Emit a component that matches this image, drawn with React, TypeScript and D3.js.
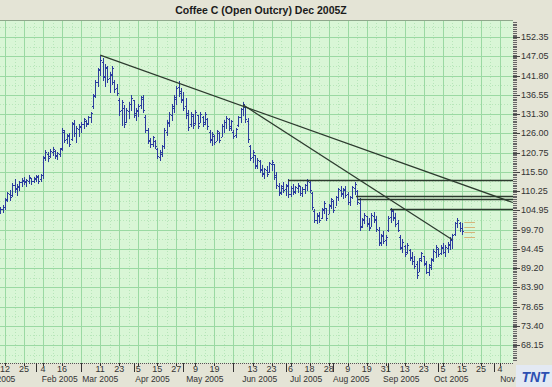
import * as d3 from 'd3'

const W = 552
const H = 387
const PLOT = { left: 0, right: 513, top: 20, bottom: 363 }

// bar index 0 sits on trading slot -2 (slot 0 = Jan 12, every 8 slots a grid line)
const FIRST_SLOT = -2

const highs = [
  105.9, 106.4, 108.4, 110.1, 110.6, 112.5, 113.4, 112.3, 113.1, 113.9, 114.2, 113.6, 114.5, 113.9, 114.2, 114.7, 114.5, 115.0,
  119.9, 121.5, 121.0, 121.8, 122.4, 121.5, 121.0, 122.1, 127.5, 127.0, 125.9, 126.2, 129.2, 129.7, 128.1, 128.6, 129.2, 130.3,
  129.7, 130.8, 131.9, 136.8, 140.6, 143.9, 147.2, 146.6, 145.0, 144.4, 142.8, 144.4, 140.6, 139.5, 135.7, 135.2, 133.8, 133.0,
  134.6, 136.5, 135.2, 133.0, 134.1, 136.3, 136.5, 131.1, 127.5, 124.8, 125.4, 124.3, 122.1, 121.5, 122.9, 127.5, 129.7, 131.9,
  134.1, 136.5, 139.0, 140.3, 138.4, 137.4, 135.7, 132.4, 131.9, 131.4, 132.4, 131.1, 131.9, 130.8, 131.9, 130.3, 127.0, 126.4,
  125.6, 127.0, 126.4, 128.6, 129.7, 130.8, 130.3, 129.7, 127.0, 127.5, 130.8, 133.0, 134.6, 133.5, 130.3, 122.9, 121.5, 120.2,
  119.4, 118.8, 117.4, 116.6, 117.1, 118.2, 118.8, 117.7, 115.5, 112.5, 112.0, 112.8, 112.3, 113.4, 111.7, 112.3, 111.7, 112.5,
  111.7, 111.4, 112.3, 113.4, 113.1, 110.1, 105.2, 104.1, 104.6, 105.7, 107.4, 105.7, 106.8, 108.4, 107.9, 109.0, 111.2, 111.7,
  111.2, 111.7, 110.1, 109.0, 111.7, 112.8, 110.6, 108.4, 103.0, 104.1, 103.5, 103.0, 104.1, 104.6, 103.5, 100.3, 98.6, 99.2,
  98.1, 103.5, 105.7, 105.2, 104.1, 102.4, 98.1, 97.0, 95.4, 95.9, 94.3, 93.7, 92.6, 91.0, 92.0, 93.7, 92.6, 91.0, 90.4, 92.0,
  94.3, 95.4, 94.8, 95.4, 95.9, 95.4, 96.2, 97.6, 98.6, 101.9, 103.0, 101.9, 101.4,
]
const lows = [
  104.1, 104.4, 105.2, 107.4, 107.9, 109.0, 110.1, 109.2, 110.6, 111.7, 112.3, 111.7, 112.5, 112.3, 112.8, 113.1, 112.5, 113.1,
  113.9, 118.8, 118.5, 119.6, 120.2, 119.3, 119.1, 119.9, 121.5, 123.7, 123.4, 122.6, 124.3, 125.4, 123.7, 125.4, 126.4, 127.5,
  128.1, 128.6, 129.2, 133.0, 136.0, 139.0, 142.0, 140.6, 139.0, 140.1, 137.4, 139.5, 137.4, 136.5, 131.1, 128.4, 127.8, 129.2,
  130.3, 132.4, 130.5, 129.7, 130.8, 133.0, 131.9, 126.4, 123.4, 122.4, 122.6, 122.1, 119.3, 118.8, 119.9, 122.1, 125.6, 128.1,
  129.7, 131.9, 134.1, 136.3, 134.6, 132.4, 130.3, 127.0, 128.1, 127.5, 128.6, 127.5, 129.2, 128.1, 128.6, 127.3, 123.7, 122.9,
  123.2, 124.3, 123.7, 125.4, 126.4, 127.5, 127.0, 127.0, 124.8, 125.1, 128.1, 129.2, 131.1, 129.2, 123.7, 118.8, 118.3, 116.6,
  116.6, 115.5, 114.4, 113.9, 114.4, 115.5, 116.1, 113.4, 111.2, 109.2, 109.5, 110.1, 109.2, 108.7, 109.0, 109.5, 109.8, 110.1,
  109.2, 109.0, 109.8, 110.6, 110.1, 105.2, 101.9, 101.4, 101.9, 103.0, 104.1, 102.4, 104.1, 105.7, 104.6, 106.3, 107.9, 109.0,
  108.4, 108.7, 106.8, 106.3, 108.4, 109.5, 106.8, 99.7, 100.3, 101.4, 100.8, 99.7, 100.8, 101.9, 99.2, 95.4, 95.4, 95.9,
  95.6, 99.2, 101.9, 102.4, 100.8, 99.2, 94.3, 93.7, 92.6, 93.2, 91.5, 90.4, 89.3, 86.6, 88.3, 91.0, 89.9, 87.7, 87.4, 88.8,
  91.0, 92.1, 92.6, 92.9, 93.2, 92.6, 93.7, 94.3, 94.8, 98.1, 100.3, 99.2, 98.4,
]
const opens = [
  104.5, 105.2, 105.8, 108.0, 109.4, 109.2, 111.8, 111.0, 111.4, 112.6, 113.0, 112.9, 113.1, 113.7, 113.0, 113.6, 114.1, 113.4,
  114.5, 119.6, 120.5, 119.9, 121.0, 121.2, 119.8, 120.5, 122.0, 126.5, 124.4, 125.2, 124.5, 128.6, 126.2, 127.2, 127.8, 128.5,
  129.5, 128.8, 130.5, 133.5, 136.5, 140.0, 143.5, 145.5, 141.8, 143.8, 141.2, 142.3, 140.0, 138.3, 135.0, 132.5, 133.0, 129.0,
  132.2, 134.0, 135.0, 131.5, 132.0, 133.8, 135.5, 130.5, 126.8, 124.2, 123.2, 124.0, 121.8, 119.5, 120.5, 122.6, 126.5, 128.8,
  131.0, 133.0, 135.5, 138.8, 137.5, 135.5, 133.5, 131.5, 128.5, 130.8, 128.9, 131.0, 128.8, 130.5, 129.0, 130.0, 126.5, 124.5,
  125.3, 124.0, 126.0, 125.0, 128.0, 129.0, 130.0, 128.0, 126.5, 125.5, 128.4, 130.5, 132.8, 133.2, 129.5, 122.5, 119.5, 120.0,
  117.4, 118.5, 116.2, 115.2, 116.0, 115.5, 117.5, 117.5, 114.5, 111.5, 110.0, 111.2, 110.8, 111.5, 109.5, 111.0, 110.2, 111.2,
  111.5, 109.8, 110.7, 111.8, 112.8, 109.8, 104.8, 102.3, 103.5, 103.0, 105.0, 105.5, 104.0, 106.2, 107.5, 106.0, 108.5, 110.6,
  109.6, 110.5, 109.5, 107.2, 108.6, 111.0, 110.2, 107.0, 100.8, 102.2, 103.3, 101.5, 100.5, 103.5, 102.5, 99.5, 96.2, 98.0,
  96.8, 99.5, 103.2, 104.8, 103.2, 101.5, 97.8, 95.0, 95.2, 93.5, 94.0, 92.3, 91.2, 90.2, 88.0, 91.8, 92.4, 90.5, 88.0, 89.5,
  91.5, 93.5, 94.5, 93.2, 94.8, 93.5, 94.8, 95.5, 96.8, 98.5, 101.5, 101.6, 100.2,
]
const closes = [
  105.4, 106.0, 107.9, 109.6, 108.5, 112.0, 110.8, 111.6, 112.8, 113.2, 112.8, 113.3, 114.0, 112.9, 113.9, 114.3, 113.0, 114.6,
  119.4, 120.9, 119.2, 121.3, 121.7, 120.0, 120.6, 121.8, 127.0, 124.2, 125.5, 123.0, 128.8, 126.0, 127.6, 128.0, 128.7, 129.9,
  128.6, 130.4, 131.5, 136.3, 140.1, 143.2, 146.0, 141.5, 144.2, 141.0, 142.0, 143.9, 138.0, 137.0, 132.0, 134.5, 128.5, 132.5,
  133.9, 135.8, 131.0, 132.5, 133.5, 135.9, 132.5, 127.0, 124.0, 123.0, 124.9, 122.6, 119.8, 120.8, 122.5, 127.0, 129.0, 131.4,
  133.6, 136.0, 138.5, 137.0, 135.2, 133.0, 131.0, 127.8, 131.2, 128.2, 131.8, 128.0, 131.3, 128.7, 131.4, 127.9, 124.2, 125.9,
  123.6, 126.6, 124.2, 128.1, 129.2, 130.3, 127.6, 129.3, 125.2, 127.1, 130.4, 132.6, 133.9, 129.8, 124.5, 119.4, 120.9, 117.2,
  118.8, 116.0, 115.0, 116.2, 114.8, 117.8, 118.2, 114.0, 111.8, 109.8, 111.5, 110.6, 111.9, 109.3, 111.2, 110.0, 111.4, 112.0,
  109.7, 110.9, 112.0, 113.0, 110.6, 105.8, 102.4, 103.6, 102.3, 105.2, 106.9, 103.0, 106.4, 108.0, 105.1, 108.6, 110.8, 109.4,
  110.7, 109.2, 107.3, 108.6, 111.3, 112.2, 107.3, 100.4, 102.5, 103.7, 101.3, 100.2, 103.6, 102.4, 99.8, 96.0, 98.1, 96.5,
  97.6, 103.0, 105.0, 103.0, 101.3, 99.6, 94.8, 96.4, 93.1, 95.4, 92.0, 91.0, 89.8, 87.4, 91.5, 93.2, 90.4, 88.2, 89.9, 91.6,
  93.8, 94.9, 93.0, 94.9, 93.6, 95.0, 95.8, 97.2, 98.3, 101.5, 102.4, 100.0, 99.2,
]

const priceTicks = ['152.35', '147.05', '141.80', '136.55', '131.30', '126.00', '120.75', '115.50', '110.25', '104.95', '99.70', '94.45', '89.20', '83.90', '78.65', '73.40', '68.15']

// grid lines every 8 slots, labelled with the day of month
const dayLabels = ['12', '25', '4', '16', '', '11', '23', '5', '15', '27', '9', '19', '', '13', '23', '6', '18', '28', '9', '19', '31', '13', '23', '5', '15', '25', '4']
const monthLabels = ['Jan 2005', 'Feb 2005', 'Mar 2005', 'Apr 2005', 'May 2005', 'Jun 2005', 'Jul 2005', 'Aug 2005', 'Sep 2005', 'Oct 2005', 'Nov 2005']
const monthLabelSlots = [-3, 23, 40, 62, 84, 107, 126.5, 145.5, 166.5, 187.5, 215.7]
const monthStartSlots = [13, 32, 54, 75, 96, 118, 138, 161, 182, 205.6]

// trend lines: [slot, price] -> [slot, price]
const trendFrom = [[40, 147.4], [100, 133.8]]
const trendTo = [[213.4, 107.1], [187.8, 97.0]]
// horizontal support / resistance lines
const levelPrices = [113.35, 108.99, 108.03, 105.44]
const levelStartSlots = [118.9, 147.5, 148.3, 161.8]
// short marks right of the last bar
const markPrices = [101.7, 100.45, 99.0, 97.7]

const BG = '#d9f6d6'
const PANEL = '#e4e4d6'
const GRID = '#9ad9a2'
const BAR = '#2b3c9e'
const LINE = '#2c3a2e'
const FONT = '"Liberation Sans", Arial, sans-serif'
const LOGO_X = 516

export default function App() {
  const x = d3.scaleLinear().domain([0, 208]).range([5, 500])
  const y = d3.scaleLinear().domain([68.15, 152.35]).range([345, 37])

  const gridSlots = d3.range(0, 209, 8)
  const minorSlots = d3.range(4, 209, 8)
  const tickVals = priceTicks.map(Number)
  const minorPrices = tickVals.slice(0, -1).map((v, i) => (v + tickVals[i + 1]) / 2).concat([65.5, 155])
  const combPrices = d3.range(64, 157, 0.5)
  const py = (p: number) => Math.round(y(p)) + 0.5
  const px = (s: number) => Math.round(x(s)) + 0.5

  return (
    <div style={{ position: 'fixed', left: 0, top: 0 }}>
      <svg width={W} height={H} style={{ display: 'block', fontFamily: FONT }}>
        <defs>
          <clipPath id="dateClip">
            <rect x={-20} y={PLOT.bottom} width={LOGO_X + 20} height={H - PLOT.bottom} />
          </clipPath>
        </defs>
        <rect x={0} y={0} width={W} height={H} fill={PANEL} />
        <rect x={PLOT.left} y={PLOT.top} width={PLOT.right - PLOT.left} height={PLOT.bottom - PLOT.top} fill={BG} />

        {/* minor dotted grid */}
        {minorSlots.map((s) => (
          <line key={'mv' + s} x1={px(s)} x2={px(s)} y1={PLOT.top} y2={PLOT.bottom} stroke="#b7e6b9" strokeDasharray="1,2" />
        ))}
        {minorPrices.map((p, i) => (
          <line key={'mh' + i} x1={PLOT.left} x2={PLOT.right} y1={py(p)} y2={py(p)} stroke="#b7e6b9" strokeDasharray="1,2" />
        ))}
        {/* major grid */}
        {gridSlots.map((s) => (
          <line key={'gv' + s} x1={px(s)} x2={px(s)} y1={PLOT.top} y2={PLOT.bottom} stroke={GRID} />
        ))}
        {tickVals.map((p, i) => (
          <line key={'gh' + i} x1={PLOT.left} x2={PLOT.right} y1={py(p)} y2={py(p)} stroke={GRID} />
        ))}
        <line x1={0} x2={PLOT.right} y1={PLOT.top + 0.5} y2={PLOT.top + 0.5} stroke="#8fa88c" />

        {/* OHLC bars */}
        {highs.map((h, i) => {
          const bx = Math.round(x(i + FIRST_SLOT))
          const top = Math.round(y(h))
          const bot = Math.round(y(lows[i]))
          return (
            <g key={'b' + i} fill={BAR}>
              <rect x={bx} y={top} width={1} height={Math.max(1, bot - top + 1)} />
              <rect x={bx - 1} y={Math.round(y(opens[i]))} width={1} height={1} />
              <rect x={bx + 1} y={Math.round(y(closes[i]))} width={1} height={1} />
            </g>
          )
        })}

        {/* trend lines */}
        {trendFrom.map((f, i) => (
          <line key={'t' + i} x1={x(f[0])} y1={y(f[1])} x2={x(trendTo[i][0])} y2={y(trendTo[i][1])} stroke={LINE} strokeWidth={1.2} />
        ))}
        {levelPrices.map((p, i) => (
          <line key={'l' + i} x1={x(levelStartSlots[i])} x2={PLOT.right} y1={py(p)} y2={py(p)} stroke={LINE} strokeWidth={1.4} />
        ))}
        {markPrices.map((p, i) => (
          <line key={'m' + i} x1={x(193)} x2={x(197.5)} y1={py(p)} y2={py(p)} stroke="#d6b47a" />
        ))}

        {/* title */}
        <text x={261} y={14} textAnchor="middle" fontSize={10.5} fontWeight="bold" fill="#1a1a1a">
          Coffee C (Open Outcry) Dec 2005Z
        </text>

        {/* right price axis */}
        {combPrices.map((p, i) => (
          <line key={'c' + i} x1={PLOT.right} x2={PLOT.right + 4} y1={py(p)} y2={py(p)} stroke="#666" />
        ))}
        {tickVals.map((p, i) => (
          <g key={'pt' + i}>
            <line x1={PLOT.right} x2={PLOT.right + 7} y1={py(p)} y2={py(p)} stroke="#444" />
            <text x={PLOT.right + 8} y={y(p) + 3} fontSize={9} fill="#333">
              {priceTicks[i]}
            </text>
          </g>
        ))}

        {/* bottom date axis */}
        <line x1={0} x2={PLOT.right} y1={PLOT.bottom + 0.5} y2={PLOT.bottom + 0.5} stroke="#555" strokeDasharray="1,1" />
        {monthStartSlots.map((s) => (
          <line key={'ms' + s} x1={px(s)} x2={px(s)} y1={PLOT.bottom} y2={PLOT.bottom + 9} stroke="#333" />
        ))}
        {gridSlots.map((s, i) => (
          <g key={'dt' + s}>
            <line x1={px(s)} x2={px(s)} y1={PLOT.bottom} y2={PLOT.bottom + 3} stroke="#333" />
            <text x={x(s)} y={372} textAnchor="middle" fontSize={9} fill="#333">
              {dayLabels[i]}
            </text>
          </g>
        ))}
        <g clipPath="url(#dateClip)">
          {monthLabels.map((m, i) => (
            <text key={m} x={x(monthLabelSlots[i])} y={382} textAnchor="middle" fontSize={8.5} fill="#333">
              {m}
            </text>
          ))}
        </g>

        {/* logo */}
        <rect x={LOGO_X} y={365} width={W - LOGO_X} height={22} fill="#e3e9f3" />
        <text x={535} y={382} textAnchor="middle" fontSize={14} fontWeight="bold" fontStyle="italic" fill="#2d4fb2">
          TNT
        </text>
      </svg>
    </div>
  )
}
